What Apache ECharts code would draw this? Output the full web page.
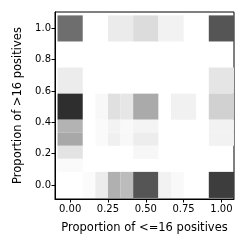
<!DOCTYPE html>
<html>
<head>
<meta charset="utf-8">
<script src="https://cdn.jsdelivr.net/npm/echarts@6/dist/echarts.min.js"></script>
<style>html,body{margin:0;padding:0;background:#fff;}#c{width:249px;height:249px;}</style>
</head>
<body>
<div id="c"></div>
<script>
// Bin edges are in twelfths (bin width = 1/12)
const binWidth = 1 / 12;
const xTicks = [0, 0.25, 0.5, 0.75, 1.0];
const yTicks = [0, 0.2, 0.4, 0.6, 0.8, 1.0];
const xLabel = 'Proportion of <=16 positives';
const yLabel = 'Proportion of >16 positives';
// cells: [xLo, xHi, yLo, yHi, density] (edges in twelfths, density 0..255 darkness)
const rowTop = [[-1,1,11,13,145],[3,5,11,13,20],[5,7,11,13,35],[7,9,11,13,13],[11,13,11,13,170]];
const rowSix = [[-1,1,7,9,19],[11,13,7,9,26]];
const rowHalf = [[-1,1,5,7,209],[2,3,5,7,7],[3,4,5,7,31],[4,5,5,7,25],[5,7,5,7,85],[8,10,5,7,14],[11,13,5,7,46]];
const rowFour = [[-1,1,4,5,76],[2,3,4,5,5],[3,4,4,5,12],[4,5,4,5,6],[5,7,4,5,11],[11,13,4,5,13]];
const rowThree = [[-1,1,3,4,87],[2,3,3,4,5],[3,4,3,4,15],[4,5,3,4,7],[5,7,3,4,18],[11,13,3,4,13]];
const rowTwo = [[-1,1,2,3,28],[5,7,2,3,8]];
const rowOne = [[-1,1,1,2,5]];
const rowZero = [[1,2,-1,1,4],[2,3,-1,1,19],[3,4,-1,1,79],[4,5,-1,1,67],[5,7,-1,1,170],[7,8,-1,1,13],[8,9,-1,1,6],[11,13,-1,1,194]];
const cells = [].concat(rowTop, rowSix, rowHalf, rowFour, rowThree, rowTwo, rowOne, rowZero);

const font = 'DejaVu Sans';
const chart = echarts.init(document.getElementById('c'), null, {renderer: 'canvas'});
chart.setOption({
  animation: false,
  backgroundColor: '#ffffff',
  grid: {left: 55, right: 15, top: 12, bottom: 50, show: true, borderColor: '#000', borderWidth: 1, backgroundColor: 'transparent'},
  visualMap: {type: 'continuous', show: false, dimension: 4, min: 0, max: 255, inRange: {color: ['#ffffff', '#000000']}, seriesIndex: 0},
  xAxis: {
    type: 'value', min: -0.1, max: 1.0833,
    name: xLabel, nameLocation: 'middle', nameGap: 23,
    nameTextStyle: {fontFamily: font, fontSize: 11.5, color: '#000'},
    splitLine: {show: false},
    axisLine: {show: true, onZero: false, lineStyle: {color: '#000', width: 1}},
    axisTick: {show: true, inside: false, length: 3.5, customValues: xTicks, lineStyle: {color: '#000'}},
    axisLabel: {customValues: xTicks, fontFamily: font, fontSize: 10, color: '#000', margin: 5,
      formatter: v => v.toFixed(2)}
  },
  yAxis: {
    type: 'value', min: -0.09, max: 1.105,
    name: yLabel, nameLocation: 'middle', nameGap: 30,
    nameTextStyle: {fontFamily: font, fontSize: 11.5, color: '#000'},
    splitLine: {show: false},
    axisLine: {show: true, onZero: false, lineStyle: {color: '#000', width: 1}},
    axisTick: {show: true, inside: false, length: 3.5, customValues: yTicks, lineStyle: {color: '#000'}},
    axisLabel: {customValues: yTicks, fontFamily: font, fontSize: 10, color: '#000', margin: 4,
      formatter: v => v.toFixed(1)}
  },
  series: [{
    type: 'custom',
    clip: true,
    encode: {x: [0, 1], y: [2, 3]},
    data: cells,
    renderItem: function (params, api) {
      const p0 = api.coord([api.value(0) * binWidth, api.value(3) * binWidth]);
      const p1 = api.coord([api.value(1) * binWidth, api.value(2) * binWidth]);
      return {
        type: 'rect',
        shape: {x: p0[0], y: p0[1], width: p1[0] - p0[0], height: p1[1] - p0[1]},
        style: {fill: api.visual('color'), stroke: null}
      };
    }
  }]
});
</script>
</body>
</html>
